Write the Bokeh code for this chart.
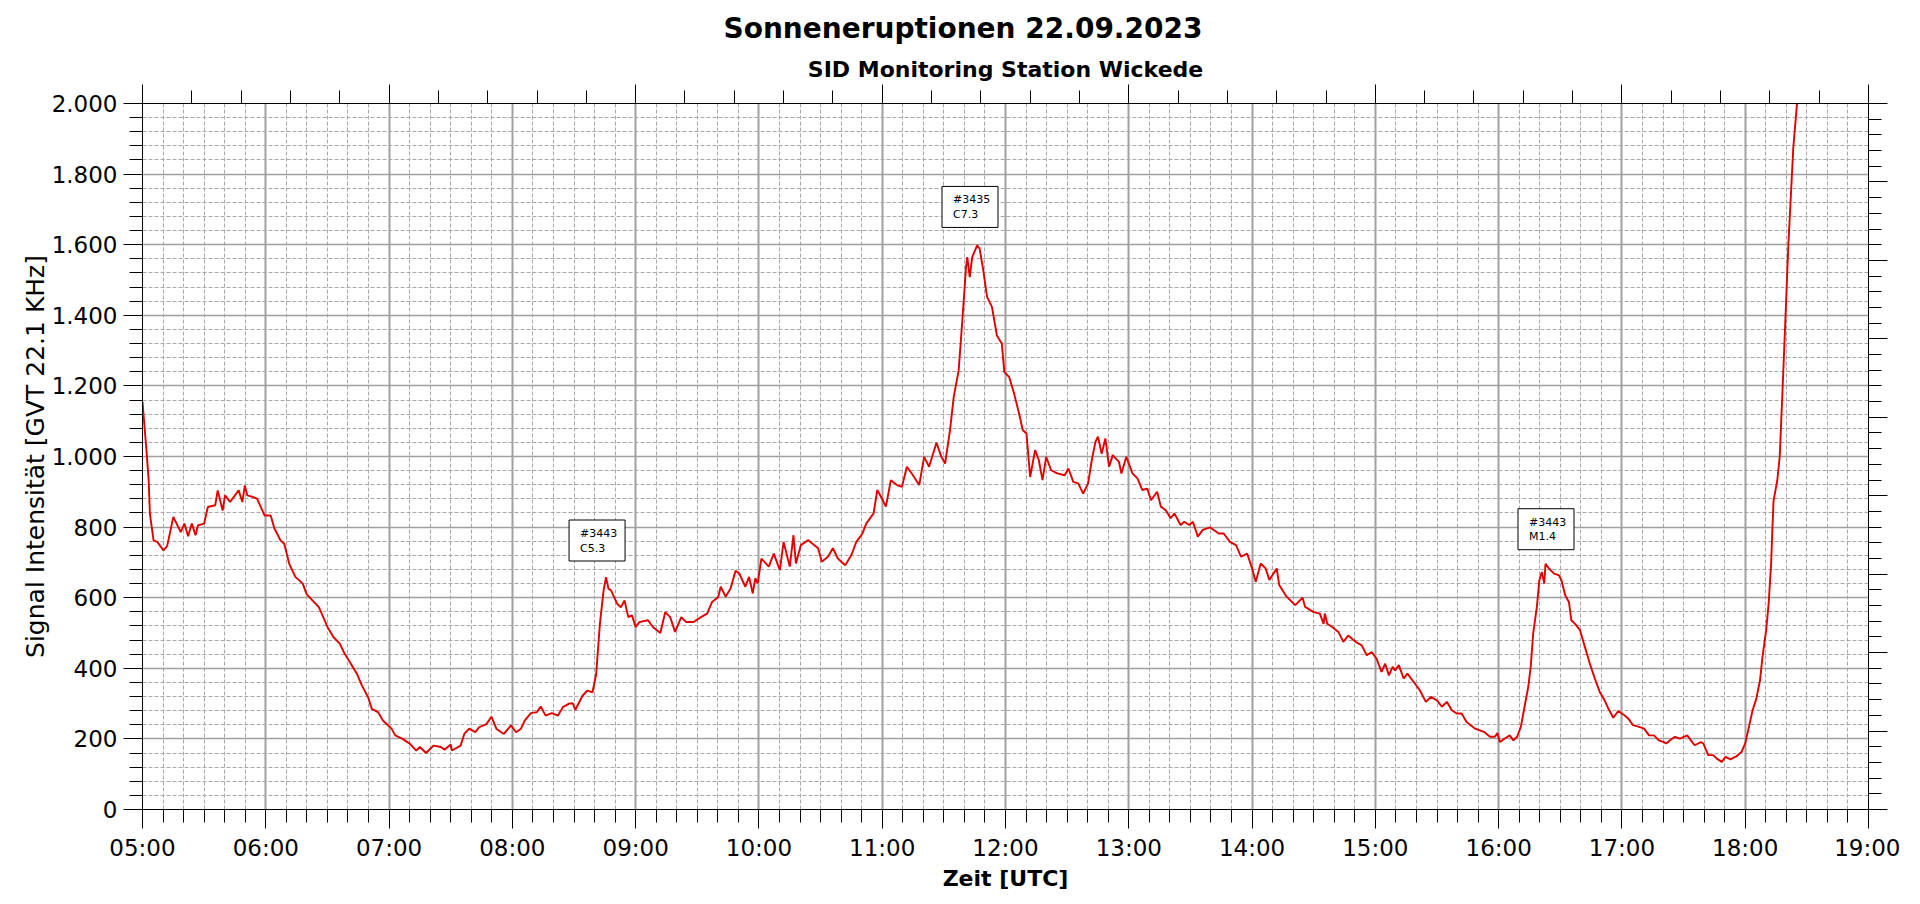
from bokeh.plotting import figure
from bokeh.models import (Range1d, LinearAxis, SingleIntervalTicker, Title)
from bokeh.core.properties import value
from bokeh.embed import file_html
from bokeh.resources import INLINE

# ---------------- data ----------------
title_text = "Sonneneruptionen 22.09.2023"
subtitle_text = "SID Monitoring Station Wickede"
x_title = "Zeit [UTC]"
y_title = "Signal Intensität [GVT 22.1 KHz]"

x_tick_values = [5, 6, 7, 8, 9, 10, 11, 12, 13, 14, 15, 16, 17, 18, 19]
x_tick_labels = ["05:00", "06:00", "07:00", "08:00", "09:00", "10:00", "11:00",
                 "12:00", "13:00", "14:00", "15:00", "16:00", "17:00", "18:00", "19:00"]
y_tick_values = [0, 200, 400, 600, 800, 1000, 1200, 1400, 1600, 1800, 2000]
y_tick_labels = ["0", "200", "400", "600", "800", "1.000", "1.200", "1.400",
                 "1.600", "1.800", "2.000"]

# time in hours (UTC)
t_hours = [
    5.00, 5.03, 5.05, 5.06, 5.09, 5.12, 5.17, 5.20, 5.25, 5.31, 5.34, 5.37, 5.40, 5.43,
    5.45, 5.50, 5.53, 5.59, 5.61, 5.65, 5.67, 5.71, 5.78, 5.81, 5.83, 5.85, 5.90, 5.93,
    5.99, 6.04, 6.07, 6.12, 6.15, 6.19, 6.24, 6.30, 6.33, 6.38, 6.43, 6.46, 6.50, 6.55,
    6.60, 6.64, 6.69, 6.74, 6.78, 6.83, 6.86, 6.91, 6.95, 7.02, 7.05, 7.11, 7.17, 7.22,
    7.25, 7.30, 7.36, 7.42, 7.45, 7.50, 7.51, 7.58, 7.61, 7.65, 7.70, 7.73, 7.79, 7.83,
    7.87, 7.93, 7.99, 8.03, 8.07, 8.10, 8.15, 8.20, 8.23, 8.27, 8.32, 8.37, 8.41, 8.46,
    8.49, 8.51, 8.57, 8.61, 8.65, 8.68, 8.71, 8.74, 8.76, 8.78, 8.80, 8.85, 8.88, 8.91,
    8.94, 8.97, 9.00, 9.03, 9.10, 9.14, 9.20, 9.24, 9.28, 9.32, 9.37, 9.41, 9.47, 9.53,
    9.58, 9.62, 9.67,
    9.69, 9.73, 9.77, 9.81, 9.84, 9.89, 9.92, 9.95, 9.97, 9.99, 10.02, 10.08, 10.12, 10.17,
    10.20, 10.25, 10.28, 10.30, 10.34, 10.40, 10.48, 10.51, 10.56, 10.60, 10.64, 10.70,
    10.75, 10.79, 10.84, 10.87, 10.93, 10.96, 10.99, 11.03, 11.07, 11.12, 11.16, 11.20,
    11.24, 11.30, 11.34, 11.38, 11.44, 11.48, 11.51, 11.55, 11.58, 11.62, 11.65, 11.68,
    11.69, 11.71, 11.73, 11.77, 11.79, 11.82, 11.85, 11.89, 11.93, 11.97, 11.99, 12.03,
    12.07, 12.11, 12.14, 12.17, 12.20, 12.24, 12.27, 12.30, 12.33, 12.37, 12.42, 12.48,
    12.51, 12.55, 12.59, 12.63, 12.67, 12.70, 12.73, 12.75, 12.78, 12.81, 12.84, 12.87,
    12.92, 12.94, 12.98, 13.03, 13.07, 13.11, 13.15, 13.18, 13.23, 13.26, 13.30, 13.34,
    13.37, 13.42, 13.45, 13.49, 13.52, 13.56, 13.60, 13.66, 13.73, 13.77, 13.82, 13.87,
    13.91, 13.96, 14.00, 14.03, 14.07, 14.11, 14.14, 14.20, 14.22, 14.28, 14.35,
    14.41, 14.43, 14.50, 14.55, 14.58, 14.59, 14.61, 14.65, 14.70, 14.74, 14.78, 14.84,
    14.89, 14.93, 14.97, 15.01, 15.05, 15.08, 15.11, 15.14, 15.16, 15.19, 15.23, 15.26,
    15.32, 15.36, 15.41, 15.45, 15.50, 15.54, 15.58, 15.62, 15.66, 15.70, 15.74, 15.81,
    15.88, 15.93, 15.97, 15.99, 16.01, 16.05, 16.09, 16.12, 16.15, 16.18, 16.21, 16.24,
    16.26, 16.28, 16.31, 16.33, 16.35, 16.37, 16.38, 16.41, 16.45, 16.49, 16.51, 16.54,
    16.57, 16.59, 16.62, 16.66, 16.70, 16.74, 16.78, 16.82, 16.86, 16.89, 16.93, 16.97,
    17.02, 17.05, 17.09, 17.14, 17.18, 17.22, 17.26, 17.30, 17.34, 17.36, 17.39, 17.43,
    17.47, 17.53, 17.57, 17.59, 17.64, 17.66, 17.70, 17.74, 17.77, 17.81, 17.84, 17.88,
    17.93, 17.97, 18.00, 18.03, 18.06, 18.09, 18.12, 18.14, 18.17, 18.19, 18.21, 18.22,
    18.23, 18.26, 18.28, 18.31, 18.35, 18.39, 18.42,
]

signal = [
    1155, 1027, 933, 838, 762, 758, 734, 746, 829, 786, 810, 774, 810, 777,
    805, 810, 857, 862, 904, 847, 890, 871, 904, 871, 918, 890, 885, 880,
    833, 833, 796, 762, 753, 696, 659, 640, 611, 592, 573, 550, 517, 488,
    470, 441, 413, 384, 351, 318, 285, 276, 252, 229, 210, 200, 186, 167,
    177, 160, 181, 177, 169, 184, 167, 181, 214, 229, 219, 233, 242, 263,
    229, 214, 238, 219, 229, 252, 273, 276, 292, 266, 273, 266, 290, 300,
    301, 282, 323, 337, 332, 384, 526, 621, 658, 625, 621, 583, 573, 592,
    545, 550, 517, 531, 536, 517, 500, 559, 545, 503, 545, 531, 531, 545,
    555, 588, 602,
    631, 603, 626, 676, 669, 631, 659, 612, 655, 641, 711, 688, 725, 678,
    758, 688, 777, 697, 749, 763, 740, 702, 716, 740, 711, 692,
    721, 758, 782, 810, 839, 905, 886, 858, 933, 919, 914, 971,
    952, 919, 999, 971, 1039, 999, 980, 1075, 1169, 1244, 1386, 1537,
    1565, 1508, 1565, 1598, 1589, 1527, 1452, 1424, 1343, 1320, 1240, 1225,
    1178, 1122, 1075, 1065, 942, 1018, 990, 933, 999, 961, 952, 947,
    966, 928, 924, 895, 924, 990, 1042, 1056, 1008, 1051, 971, 1004,
    985, 952, 999, 952, 938, 905, 909, 876, 900, 858, 848, 825,
    839, 806, 815, 806, 815, 773, 792, 799, 782, 782, 758, 749,
    716, 725, 683, 645, 697, 683, 650, 683, 636, 603, 579,
    600, 574, 559, 555, 526, 555, 526, 517, 503, 475, 493, 475,
    465, 437, 446, 427, 390, 413, 380, 404, 394, 409, 371, 385,
    357, 338, 305, 319, 309, 291, 305, 281, 272, 272, 248, 229,
    220, 206, 206, 217, 191, 201, 210, 196, 206, 234, 291, 347,
    404, 498, 574, 649, 673, 640, 696, 682, 668, 663, 649, 607,
    588, 536, 526, 508, 460, 413, 371, 333, 309, 286, 260, 279,
    267, 258, 239, 234, 229, 210, 210, 196, 191, 187, 196, 206,
    201, 210, 191, 182, 191, 187, 154, 154, 144, 135, 149, 142,
    151, 163, 187, 234, 281, 314, 366, 432, 508, 583, 696, 791,
    875, 932, 1000, 1250, 1600, 1875, 2000,
]

# flare annotations (box centre time, box centre value, two text lines)
ann_x = [8.687, 11.712, 16.384]
ann_y = [762, 1707, 794]
ann_line1 = ["#3443", "#3435", "#3443"]
ann_line2 = ["C5.3", "C7.3", "M1.4"]

# ---------------- figure ----------------
FONT = "DejaVu Sans"

p = figure(width=1900, height=900, x_range=Range1d(5, 19), y_range=Range1d(0, 2000),
           output_backend="svg", toolbar_location=None,
           min_border_left=142, min_border_right=32, min_border_top=103, min_border_bottom=91)
p.background_fill_color = "white"
p.border_fill_color = "white"
p.outline_line_color = "black"
p.outline_line_width = 1

# bottom axis
xax = p.xaxis[0]
xax.ticker = SingleIntervalTicker(interval=1, num_minor_ticks=6)
xax.major_label_overrides = {v: s for v, s in zip(x_tick_values, x_tick_labels)}
# left axis
yax = p.yaxis[0]
yax.ticker = SingleIntervalTicker(interval=200, num_minor_ticks=5)
yax.major_label_overrides = {v: s for v, s in zip(y_tick_values, y_tick_labels)}

for ax in (xax, yax):
    ax.major_tick_out = 19
    ax.major_tick_in = 0
    ax.minor_tick_out = 13
    ax.minor_tick_in = 0
    ax.major_tick_line_color = "black"
    ax.minor_tick_line_color = "black"
    ax.axis_line_color = "black"
    ax.major_label_text_font = FONT
    ax.major_label_text_font_size = "23px"
    ax.major_label_text_color = "black"
    ax.major_label_standoff = 6
    ax.axis_label_text_font = FONT
    ax.axis_label_text_color = "black"

xax.axis_label = x_title
xax.axis_label_text_font_size = "22px"
xax.axis_label_text_font_style = "bold"
xax.axis_label_standoff = 2
yax.axis_label = y_title
yax.axis_label_text_font_size = "25px"
yax.axis_label_text_font_style = "normal"
yax.axis_label_standoff = -1

# top and right axes (ticks only, no labels)
p.extra_x_ranges = {"top": Range1d(0, 7)}
p.extra_y_ranges = {"right": Range1d(0, 9)}
top_ax = LinearAxis(x_range_name="top", ticker=SingleIntervalTicker(interval=1, num_minor_ticks=5))
right_ax = LinearAxis(y_range_name="right", ticker=SingleIntervalTicker(interval=1, num_minor_ticks=5))
for ax in (top_ax, right_ax):
    ax.major_tick_out = 19
    ax.major_tick_in = 0
    ax.minor_tick_out = 13
    ax.minor_tick_in = 0
    ax.major_tick_line_color = "black"
    ax.minor_tick_line_color = "black"
    ax.axis_line_color = "black"
    ax.major_label_text_font_size = "1px"
    ax.major_label_text_color = None
    ax.major_label_standoff = 0
p.add_layout(top_ax, "above")
p.add_layout(right_ax, "right")

# titles (first added = closest to the plot)
p.add_layout(Title(text=subtitle_text, align="center", text_font=FONT, text_font_size="22px",
                   text_font_style="bold", text_color="black", standoff=4.6), "above")
p.add_layout(Title(text=title_text, align="left", offset=581, text_font=FONT,
                   text_font_size="28px", text_font_style="bold", text_color="black",
                   standoff=15), "above")

# grids
p.xgrid.grid_line_color = "#a0a0a0"
p.xgrid.grid_line_width = 2
p.xgrid.minor_grid_line_color = "#a8a8a8"
p.xgrid.minor_grid_line_dash = "4 2"
p.xgrid.minor_grid_line_width = 1
p.ygrid.grid_line_color = "#a0a0a0"
p.ygrid.grid_line_width = 1.3
p.ygrid.minor_grid_line_color = "#a8a8a8"
p.ygrid.minor_grid_line_dash = "4 2"
p.ygrid.minor_grid_line_width = 1

# signal line
p.line(t_hours, signal, line_color="#e00000", line_width=1.9)

# flare annotation boxes
p.rect(x=ann_x, y=ann_y, width=56, height=41, width_units="screen", height_units="screen",
       fill_color="white", line_color="black", line_width=1)
p.text(x=ann_x, y=ann_y, text=ann_line1, x_offset=-17, y_offset=-7,
       text_font=value(FONT), text_font_size="11px", text_align="left",
       text_baseline="middle", text_color="black")
p.text(x=ann_x, y=ann_y, text=ann_line2, x_offset=-17, y_offset=7.5,
       text_font=value(FONT), text_font_size="11px", text_align="left",
       text_baseline="middle", text_color="black")

open("out.html", "w").write(file_html(p, INLINE))
